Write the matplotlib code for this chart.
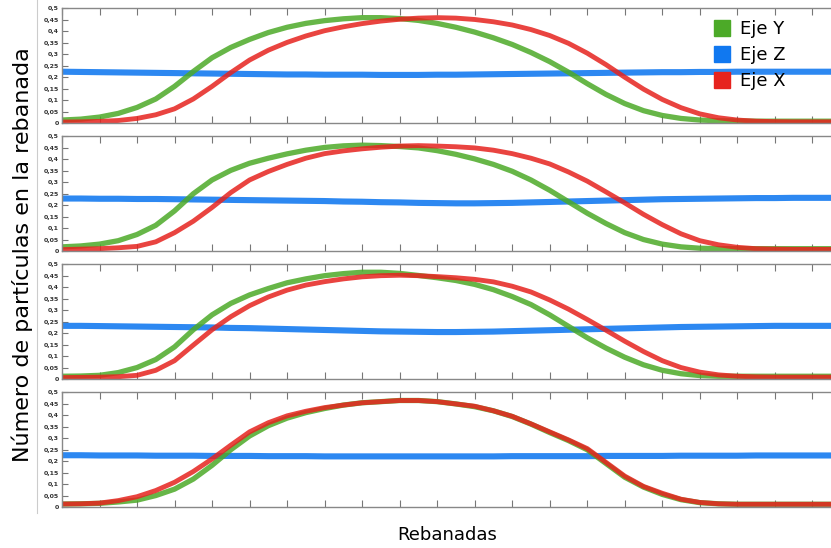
import matplotlib.pyplot as plt
import numpy as np
from matplotlib.lines import Line2D

# slice positions (one sample every 5 slices)
rebanadas = np.arange(0, 210, 5)

# panel 1
y_p1 = [0.013, 0.017, 0.026, 0.042, 0.068, 0.105, 0.16, 0.225, 0.285, 0.33, 0.365, 0.395, 0.418, 0.435,
        0.447, 0.455, 0.46, 0.46, 0.456, 0.448, 0.435, 0.418, 0.397, 0.372, 0.343, 0.308, 0.268, 0.222,
        0.172, 0.125, 0.085, 0.054, 0.033, 0.02, 0.013, 0.01, 0.009, 0.008, 0.008, 0.008, 0.008, 0.008]
z_p1 = [0.224, 0.223, 0.222, 0.221, 0.22, 0.219, 0.218, 0.217, 0.216, 0.215, 0.214, 0.213, 0.212, 0.212,
        0.211, 0.211, 0.211, 0.21, 0.21, 0.21, 0.211, 0.211, 0.212, 0.213, 0.214, 0.215, 0.216, 0.217,
        0.218, 0.219, 0.22, 0.221, 0.222, 0.222, 0.223, 0.223, 0.224, 0.224, 0.224, 0.224, 0.224, 0.224]
x_p1 = [0.004, 0.005, 0.007, 0.011, 0.02, 0.036, 0.062, 0.105, 0.16, 0.22, 0.275, 0.318, 0.352, 0.38,
        0.403, 0.42, 0.434, 0.445, 0.453, 0.458, 0.46, 0.458, 0.452, 0.442, 0.428, 0.408, 0.382, 0.348,
        0.305, 0.255, 0.2, 0.148, 0.103, 0.067, 0.04, 0.023, 0.013, 0.008, 0.006, 0.005, 0.005, 0.005]

# panel 2
y_p2 = [0.018, 0.022, 0.03, 0.045, 0.072, 0.112, 0.175, 0.25, 0.31, 0.352, 0.383, 0.405, 0.424, 0.44,
        0.452, 0.459, 0.462, 0.46, 0.456, 0.45, 0.438, 0.422, 0.402, 0.378, 0.348, 0.31, 0.265, 0.215,
        0.165, 0.12, 0.08, 0.05, 0.03, 0.018, 0.012, 0.01, 0.01, 0.01, 0.01, 0.01, 0.01, 0.01]
z_p2 = [0.229, 0.229, 0.228, 0.228, 0.227, 0.227, 0.226, 0.225, 0.224, 0.223, 0.222, 0.221, 0.22, 0.219,
        0.218, 0.216, 0.215, 0.213, 0.212, 0.21, 0.209, 0.208, 0.208, 0.209, 0.21, 0.212, 0.214, 0.216,
        0.218, 0.22, 0.222, 0.224, 0.226, 0.227, 0.228, 0.229, 0.23, 0.231, 0.231, 0.232, 0.232, 0.232]
x_p2 = [0.006, 0.008, 0.01, 0.014, 0.02, 0.04, 0.08, 0.13, 0.19, 0.255, 0.31, 0.347, 0.378, 0.405,
        0.425, 0.437, 0.446, 0.453, 0.458, 0.46, 0.458, 0.455, 0.45, 0.44, 0.425, 0.405, 0.38, 0.345,
        0.305, 0.258, 0.21, 0.16, 0.115, 0.075, 0.045, 0.027, 0.016, 0.01, 0.008, 0.007, 0.007, 0.007]

# panel 3
y_p3 = [0.012, 0.013, 0.016, 0.028, 0.05, 0.085, 0.14, 0.215, 0.28, 0.33, 0.367, 0.395, 0.42, 0.437,
        0.451, 0.46, 0.466, 0.466, 0.461, 0.452, 0.442, 0.43, 0.413, 0.39, 0.36, 0.325, 0.28, 0.23,
        0.18, 0.135, 0.095, 0.062, 0.038, 0.023, 0.015, 0.012, 0.012, 0.012, 0.012, 0.012, 0.012, 0.012]
z_p3 = [0.232, 0.232, 0.231, 0.23, 0.229, 0.228, 0.227, 0.226, 0.225, 0.223, 0.222, 0.22, 0.218, 0.216,
        0.214, 0.212, 0.21, 0.208, 0.207, 0.206, 0.205, 0.205, 0.206, 0.207, 0.209, 0.211, 0.213, 0.215,
        0.217, 0.219, 0.221, 0.223, 0.225, 0.227, 0.228, 0.229, 0.23, 0.231, 0.232, 0.232, 0.232, 0.232]
x_p3 = [0.006, 0.007, 0.008, 0.01, 0.016, 0.038, 0.08, 0.148, 0.215, 0.272, 0.32, 0.358, 0.388, 0.41,
        0.425, 0.437, 0.446, 0.451, 0.453, 0.451, 0.447, 0.442, 0.435, 0.424, 0.405, 0.38, 0.345, 0.305,
        0.26, 0.213, 0.165, 0.12, 0.08, 0.05, 0.03, 0.018, 0.012, 0.009, 0.008, 0.008, 0.008, 0.008]

# panel 4
y_p4 = [0.013, 0.014, 0.016, 0.022, 0.03, 0.05, 0.078, 0.122, 0.182, 0.25, 0.31, 0.355, 0.388, 0.412,
        0.43, 0.445, 0.455, 0.46, 0.465, 0.465, 0.46, 0.45, 0.438, 0.42, 0.395, 0.362, 0.325, 0.29,
        0.25, 0.19, 0.13, 0.087, 0.055, 0.032, 0.019, 0.014, 0.012, 0.012, 0.012, 0.012, 0.012, 0.012]
z_p4 = [0.226, 0.226, 0.225, 0.225, 0.225, 0.224, 0.224, 0.224, 0.223, 0.223, 0.223, 0.222, 0.222, 0.222,
        0.221, 0.221, 0.221, 0.221, 0.221, 0.221, 0.221, 0.221, 0.221, 0.221, 0.222, 0.222, 0.222, 0.222,
        0.222, 0.223, 0.223, 0.223, 0.223, 0.224, 0.224, 0.224, 0.224, 0.225, 0.225, 0.225, 0.225, 0.225]
x_p4 = [0.013, 0.014, 0.017, 0.028, 0.045, 0.072, 0.108, 0.155, 0.21, 0.27, 0.328, 0.368, 0.398, 0.418,
        0.434, 0.445, 0.455, 0.46, 0.465, 0.465, 0.46, 0.45, 0.44, 0.42, 0.396, 0.363, 0.328, 0.293,
        0.255, 0.195, 0.135, 0.09, 0.06, 0.034, 0.02, 0.014, 0.012, 0.012, 0.012, 0.012, 0.012, 0.012]

paneles = [(y_p1, z_p1, x_p1), (y_p2, z_p2, x_p2), (y_p3, z_p3, x_p3), (y_p4, z_p4, x_p4)]

c_y = "#4caa28"
c_z = "#1078f0"
c_x = "#e6231e"

fig = plt.figure(figsize=(8.31, 5.48), dpi=100)

# panel boxes (left, bottom, width, height) in figure fractions
bottoms = [0.7755, 0.542, 0.3084, 0.0748]
for b, (vy, vz, vx) in zip(bottoms, paneles):
    ax = fig.add_axes([0.0746, b, 0.93, 0.209])
    ax.plot(rebanadas, vz, color=c_z, lw=4.4, alpha=0.88, solid_joinstyle="round")
    ax.plot(rebanadas, vy, color=c_y, lw=3.8, alpha=0.85, solid_joinstyle="round")
    ax.plot(rebanadas, vx, color=c_x, lw=3.5, alpha=0.85, solid_joinstyle="round")
    ax.set_xlim(0, 206)
    ax.set_ylim(0, 0.5)
    ax.set_xticks(np.arange(0, 210, 10))
    ax.set_xticklabels([])
    yt = np.arange(0, 0.51, 0.05)
    ax.set_yticks(yt)
    ax.set_yticklabels(["0"] + [("%g" % v).replace(".", ",") for v in yt[1:]])
    ax.tick_params(axis="x", direction="in", top=True, bottom=True, length=5, width=0.8, color="#777777")
    ax.tick_params(axis="y", direction="in", length=4, width=0.8, color="#777777",
                   labelsize=4.5, labelcolor="#333333", pad=2)
    for lbl in ax.get_yticklabels():
        lbl.set_fontweight("bold")
    for side in ["left", "bottom", "top"]:
        ax.spines[side].set_color("#888888")
        ax.spines[side].set_linewidth(1.0)
    ax.spines["right"].set_visible(False)

# thin separator next to the axis label
fig.add_artist(Line2D([0.0445, 0.0445], [0.064, 1.0], color="#cccccc", lw=0.8))

fig.text(0.027, 0.535, "Número de partículas en la rebanada", rotation=90,
         ha="center", va="center", fontsize=16)
fig.text(0.538, 0.024, "Rebanadas", ha="center", va="center", fontsize=13)

handles = [Line2D([], [], ls="none", marker="s", ms=12, color=c) for c in (c_y, c_z, c_x)]
fig.legend(handles, ["Eje Y", "Eje Z", "Eje X"], loc="upper left", bbox_to_anchor=(0.838, 0.993),
           frameon=False, fontsize=13, handletextpad=0.5, labelspacing=0.45, handlelength=1.0)

fig.savefig("out.png", dpi=100)
